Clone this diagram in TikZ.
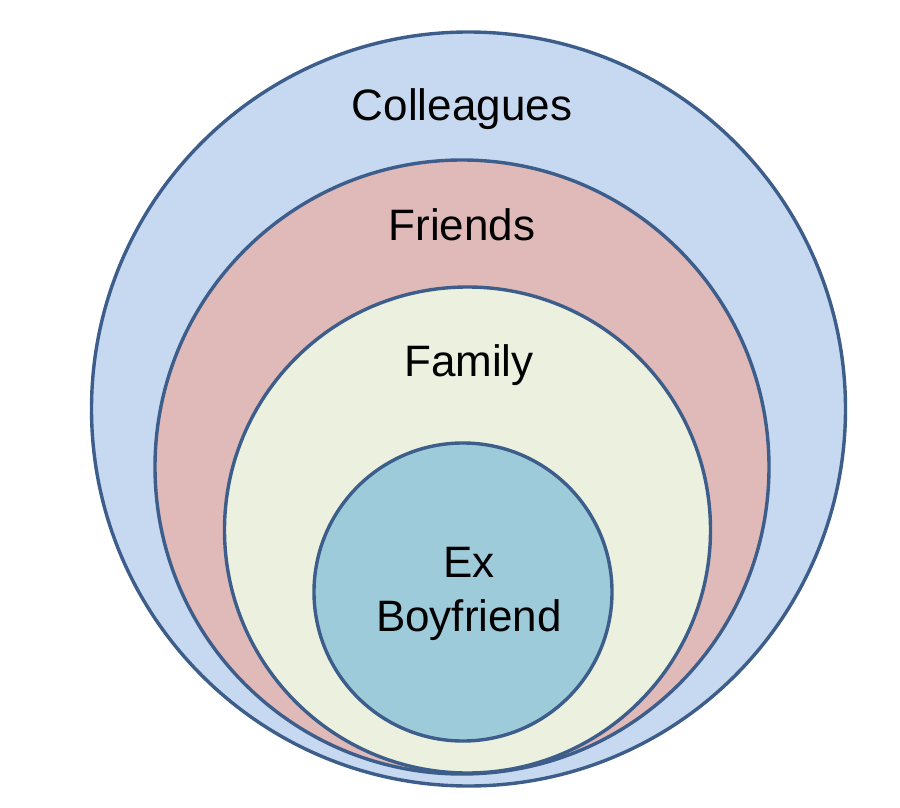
\documentclass[tikz,border=0pt]{standalone}
\usepackage{fontspec}
\setmainfont{Liberation Sans}
\definecolor{strokeblue}{HTML}{3D5D8A}
\definecolor{colfill}{HTML}{C6D9F0}
\definecolor{frifill}{HTML}{DFBAB9}
\definecolor{famfill}{HTML}{EBF0DF}
\definecolor{exfill}{HTML}{9ECBDA}
\begin{document}
\begin{tikzpicture}[x=0.5pt,y=-0.5pt,
  ring/.style={circle, draw=strokeblue, line width=1.7pt, inner sep=0pt, outer sep=0pt},
  lbl/.style={font=\fontsize{22}{27}\selectfont, text=black, align=center, inner sep=0pt}]
\useasboundingbox (0,0) rectangle (900,808);
\node[ring, fill=colfill, minimum size=377pt] (colleagues) at (468.5,409) {};
\node[ring, fill=frifill, minimum size=307pt] (friends) at (462,467) {};
\node[ring, fill=famfill, minimum size=243pt] (family) at (467.5,530) {};
\node[ring, fill=exfill, minimum size=149pt] (ex) at (463,592) {};
\node[lbl] (tcol) at (462,109) {Colleagues};
\node[lbl] (tfri) at (462,225) {Friends};
\node[lbl] (tfam) at (469,365) {Family};
\node[lbl] (tex) at (469,594) {Ex\\Boyfriend};
\end{tikzpicture}
\end{document}
